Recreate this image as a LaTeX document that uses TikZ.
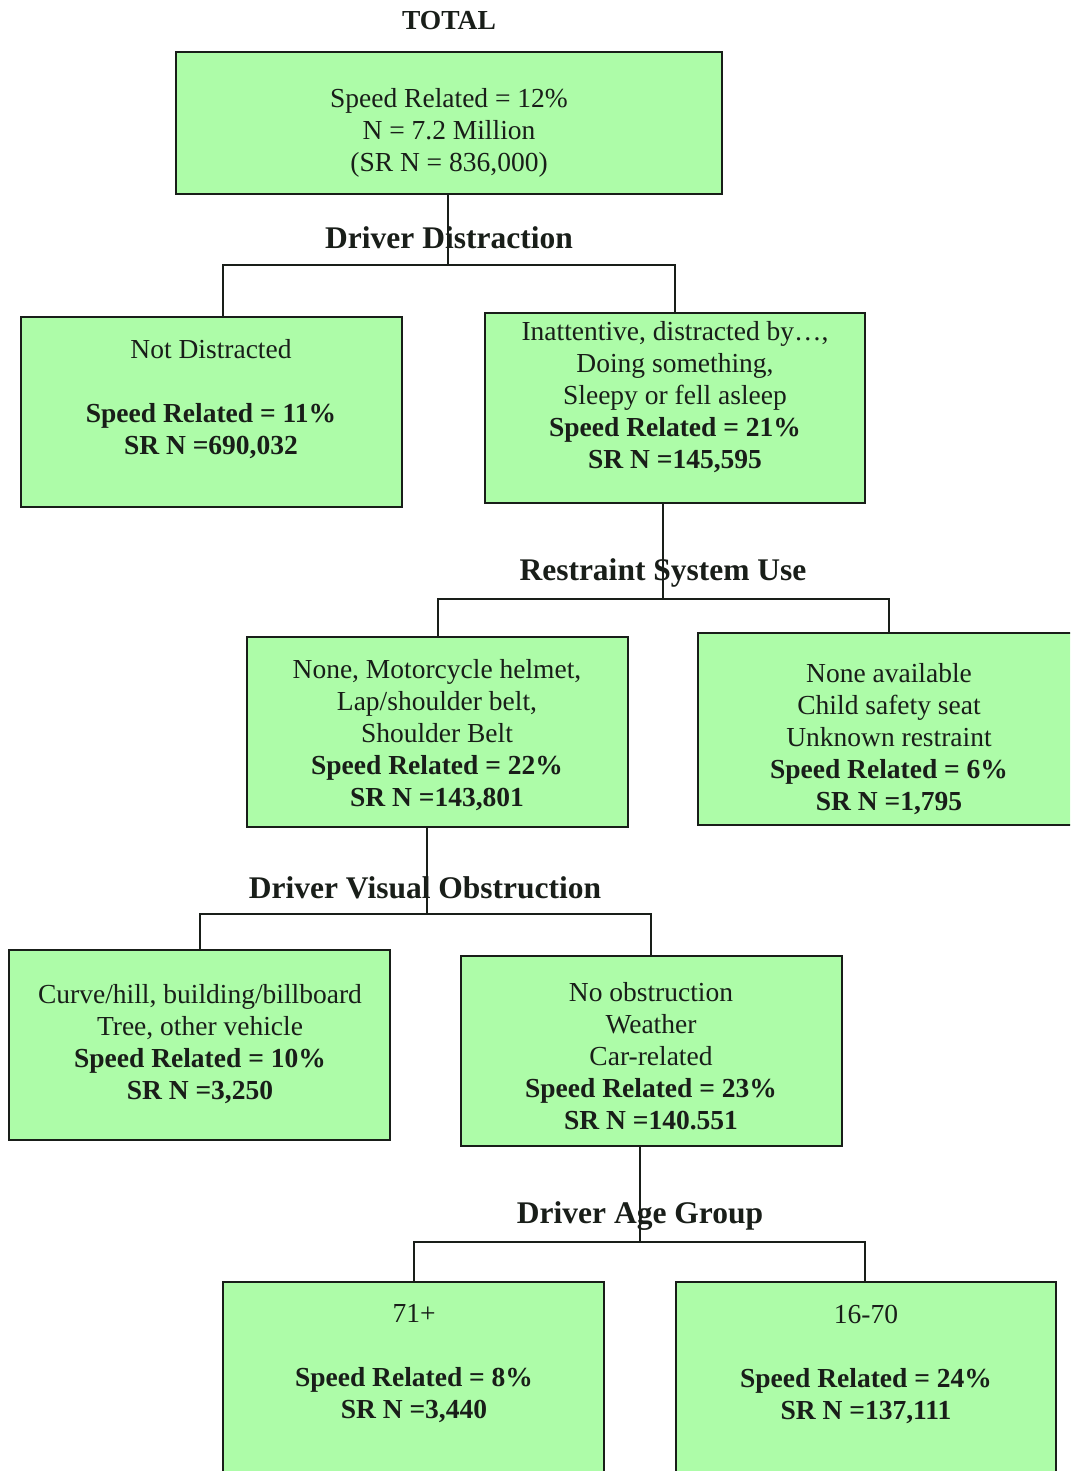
\documentclass[tikz,border=0pt]{standalone}
\usepackage{fontspec}
\setmainfont{Liberation Serif}
\definecolor{boxgreen}{RGB}{173,252,168}
\definecolor{ink}{RGB}{25,30,25}
\begin{document}
\begin{tikzpicture}[x=1pt,y=-1pt,
  box/.style={draw=ink, line width=2pt, fill=boxgreen, inner sep=0pt, outer sep=0pt, anchor=north west},
  txt/.style={align=center, inner sep=0pt, text=ink, font=\fontsize{27.5}{32}\selectfont},
  lbl/.style={inner sep=0pt, text=ink, font=\fontsize{31.5}{36}\selectfont\bfseries},
  conn/.style={line width=2pt, draw=ink}]
\useasboundingbox (0,0) rectangle (1070,1471);
\clip (0,0) rectangle (1070,1471);
\fill[white] (0,0) rectangle (1070,1471);

% boxes
\node[box, minimum width=546, minimum height=142] (total) at (176,52) {};
\node[box, minimum width=381, minimum height=190] (nd) at (21,317) {};
\node[box, minimum width=380, minimum height=190] (ina) at (485,313) {};
\node[box, minimum width=381, minimum height=190] (res1) at (247,637) {};
\node[box, minimum width=400, minimum height=192] (res2) at (698,633) {};
\node[box, minimum width=381, minimum height=190] (vo1) at (9,950) {};
\node[box, minimum width=381, minimum height=190] (vo2) at (461,956) {};
\node[box, minimum width=381, minimum height=230] (ag1) at (223,1282) {};
\node[box, minimum width=380, minimum height=230] (ag2) at (676,1282) {};

% titles and labels
\node[inner sep=0pt, text=ink, font=\fontsize{27.5}{32}\selectfont\bfseries] (title) at (449,21) {TOTAL};
\node[lbl] (ldd) at (449,238) {Driver Distraction};
\node[lbl] (lrs) at (663,573) {Restraint System Use};
\node[lbl] (lvo) at (425,888) {Driver Visual Obstruction};
\node[lbl] (lag) at (640,1216) {Driver Age Group};

% box texts
\node[txt] (ttotal) at (449,133) {Speed Related = 12\%\\N = 7.2 Million\\(SR N = 836,000)};
\node[txt] (tnd) at (211,399) {Not Distracted\\[32pt]\textbf{Speed Related = 11\%}\\\textbf{SR N =690,032}};
\node[txt] (tina) at (675,397) {Inattentive, distracted by\ldots,\\Doing something,\\Sleepy or fell asleep\\\textbf{Speed Related = 21\%}\\\textbf{SR N =145,595}};
\node[txt] (tres1) at (437,735) {None, Motorcycle helmet,\\Lap/shoulder belt,\\Shoulder Belt\\\textbf{Speed Related = 22\%}\\\textbf{SR N =143,801}};
\node[txt] (tres2) at (889,739) {None available\\Child safety seat\\Unknown restraint\\\textbf{Speed Related = 6\%}\\\textbf{SR N =1,795}};
\node[txt] (tvo1) at (200,1044) {Curve/hill, building/billboard\\Tree, other vehicle\\\textbf{Speed Related = 10\%}\\\textbf{SR N =3,250}};
\node[txt] (tvo2) at (651,1056) {No obstruction\\Weather\\Car-related\\\textbf{Speed Related = 23\%}\\\textbf{SR N =140.551}};
\node[txt] (tag1) at (414,1364) {71+\\[32pt]\textbf{Speed Related = 8\%}\\\textbf{SR N =3,440}};
\node[txt] (tag2) at (866,1364) {16-70\\[32pt]\textbf{Speed Related = 24\%}\\\textbf{SR N =137,111}};

% junction coordinates
\coordinate (j1) at (448,265);
\coordinate (j1l) at (223,265);
\coordinate (j1r) at (675,265);
\coordinate (j2) at (663,599);
\coordinate (j2l) at (438,599);
\coordinate (j2r) at (889,599);
\coordinate (j3) at (427,914);
\coordinate (j3l) at (200,914);
\coordinate (j3r) at (651,914);
\coordinate (j4) at (640,1242);
\coordinate (j4l) at (414,1242);
\coordinate (j4r) at (865,1242);

% connectors
\draw[conn] (j1 |- total.south) -- (j1);
\draw[conn] (j1l |- nd.north) -- (j1l) -- (j1r) -- (j1r |- ina.north);
\draw[conn] (j2 |- ina.south) -- (j2);
\draw[conn] (j2l |- res1.north) -- (j2l) -- (j2r) -- (j2r |- res2.north);
\draw[conn] (j3 |- res1.south) -- (j3);
\draw[conn] (j3l |- vo1.north) -- (j3l) -- (j3r) -- (j3r |- vo2.north);
\draw[conn] (j4 |- vo2.south) -- (j4);
\draw[conn] (j4l |- ag1.north) -- (j4l) -- (j4r) -- (j4r |- ag2.north);
\end{tikzpicture}
\end{document}
